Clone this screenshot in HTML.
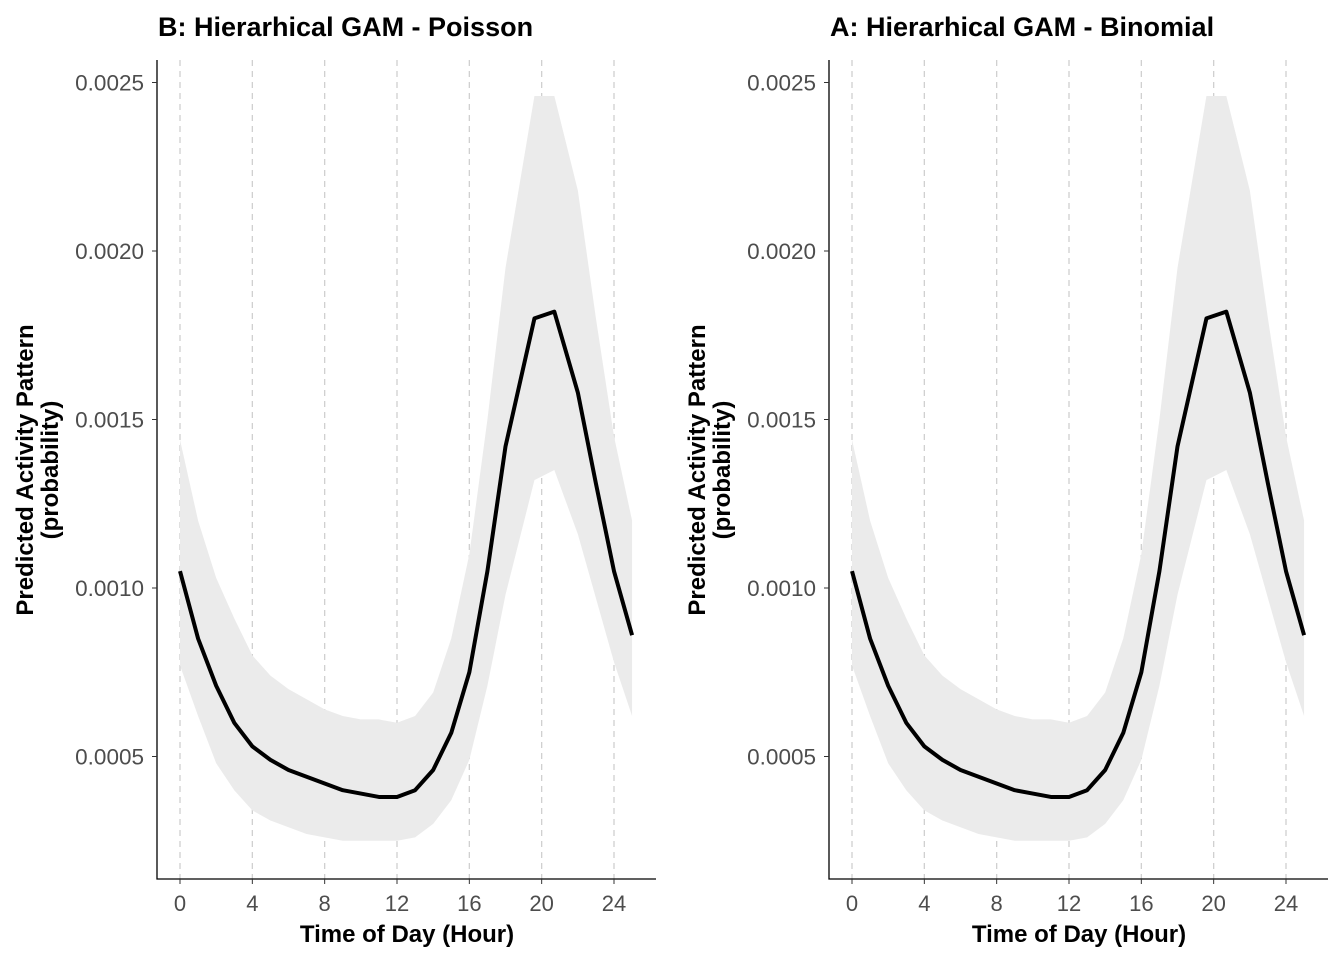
<!DOCTYPE html>
<html><head><meta charset="utf-8"><style>
body{margin:0;background:#fff;}
svg text{font-family:"Liberation Sans",Arial,sans-serif;}
</style></head><body>
<svg id="c" width="1344" height="960" xmlns="http://www.w3.org/2000/svg"></svg>
<script>
const hours=[0,1,2,3,4,5,6,7,8,9,10,11,12,13,14,15,16,17,18,19.6,20.7,22,23,24,25];
const fit=[0.00105,0.00085,0.00071,0.00060,0.00053,0.00049,0.00046,0.00044,0.00042,0.00040,0.00039,0.00038,0.00038,0.00040,0.00046,0.00057,0.00075,0.00105,0.00142,0.00180,0.00182,0.00158,0.00131,0.00105,0.00086];
const upper=[0.00144,0.00120,0.00103,0.00091,0.00080,0.00074,0.00070,0.00067,0.00064,0.00062,0.00061,0.00061,0.00060,0.00062,0.00069,0.00085,0.00110,0.00150,0.00195,0.00246,0.00246,0.00218,0.00180,0.00145,0.00120];
const lower=[0.00077,0.00062,0.00048,0.00040,0.00034,0.00031,0.00029,0.00027,0.00026,0.00025,0.00025,0.00025,0.00025,0.00026,0.00030,0.00037,0.00049,0.00071,0.00098,0.00132,0.00135,0.00116,0.00097,0.00078,0.00062];
const xTicks=[0,4,8,12,16,20,24];
const yTicks=[0.0005,0.0010,0.0015,0.0020,0.0025];
const titles=["B: Hierarhical GAM - Poisson","A: Hierarhical GAM - Binomial"];
const svg=document.getElementById('c');
const NS="http://www.w3.org/2000/svg";
function mk(tag,attrs,parent){const e=document.createElementNS(NS,tag);for(const k in attrs)e.setAttribute(k,attrs[k]);(parent||svg).appendChild(e);return e;}
titles.forEach((t,p)=>{
  const off=p*672;
  const X=h=>180+off+h*(434/24);
  const Y=v=>588-(v-0.001)*337000;
  const g=mk('g',{});
  
  
  xTicks.forEach(h=>{const l=mk('line',{x1:X(h),x2:X(h),y1:60,y2:879,stroke:'#cfcfcf','stroke-width':1.3,'stroke-dasharray':'6,5'},g);
    });
  let d='M'+hours.map((h,i)=>X(h)+','+Y(upper[i])).join('L');
  for(let i=hours.length-1;i>=0;i--)d+='L'+X(hours[i])+','+Y(lower[i]);
  const band=mk('path',{d:d+'Z',fill:'#ebebeb'},g);
  
  const ln=mk('polyline',{points:hours.map((h,i)=>X(h)+','+Y(fit[i])).join(' '),fill:'none',stroke:'#000','stroke-width':4,'stroke-linejoin':'round'},g);
  
  const ax=mk('path',{d:`M${157+off},60V879H${656+off}`,fill:'none',stroke:'#000','stroke-width':1.3},g);
  
  xTicks.forEach(h=>{mk('line',{x1:X(h),x2:X(h),y1:879,y2:884,stroke:'#333'},g);
    const tx=mk('text',{x:X(h),y:911,'text-anchor':'middle','font-size':22,fill:'#4d4d4d'},g);tx.textContent=h;
    });
  yTicks.forEach(v=>{mk('line',{x1:152+off,x2:157+off,y1:Y(v),y2:Y(v),stroke:'#333'},g);
    const tx=mk('text',{x:144+off,y:Y(v)+8,'text-anchor':'end','font-size':22.5,fill:'#4d4d4d'},g);tx.textContent=v.toFixed(4);
    });
  const ti=mk('text',{x:158+off,y:36,'font-size':27,'font-weight':'bold'},g);ti.textContent=t;
  
  const xt=mk('text',{x:407+off,y:942,'text-anchor':'middle','font-size':24,'font-weight':'bold'},g);xt.textContent='Time of Day (Hour)';
  
  const yt=mk('text',{transform:`translate(${33+off},470) rotate(-90)`,'text-anchor':'middle','font-size':24,'font-weight':'bold'},g);
  
  const s1=mk('tspan',{x:0,dy:0},yt);s1.textContent='Predicted Activity Pattern';
  const s2=mk('tspan',{x:0,dy:25},yt);s2.textContent='(probability)';
});
</script>
</body></html>
